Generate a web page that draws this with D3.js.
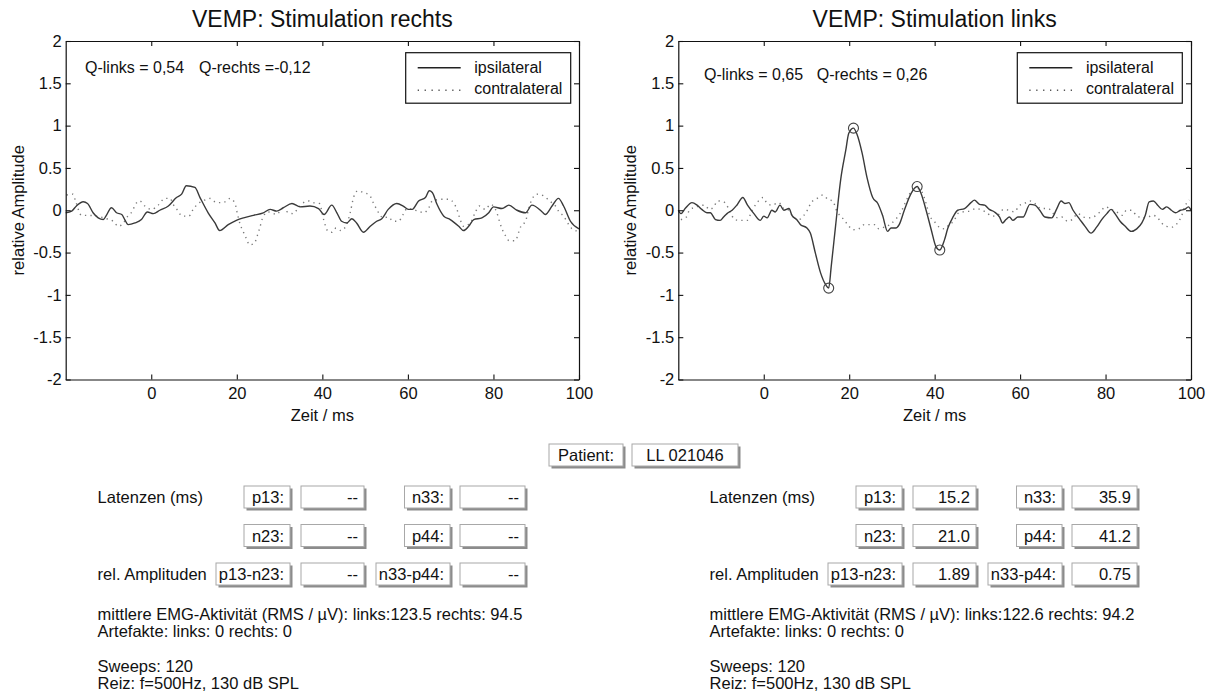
<!DOCTYPE html>
<html>
<head>
<meta charset="utf-8">
<script src="https://cdn.jsdelivr.net/npm/d3@7"></script>
<style>
  body { margin: 0; background: #fff; }
  svg { display: block; font-family: "Liberation Sans", Arial, Helvetica, sans-serif; }
</style>
</head>
<body>
<svg id="fig" width="1212" height="693"></svg>
<script>
// ---- averaged VEMP traces, [time ms, relative amplitude] ----
const rechtsIpsi = [[-20,-0.03],[-18.6,-0.01],[-17.5,0.05],[-15.9,0.10],[-14.9,0.08],[-13.6,-0.03],[-12.4,-0.09],[-11.2,-0.11],[-10.6,-0.07],[-9.3,0.03],[-8.1,-0.03],[-6.9,-0.05],[-6.2,-0.11],[-5.4,-0.17],[-3.8,-0.15],[-2.3,-0.11],[-0.9,-0.02],[0.5,-0.04],[2.0,0.00],[4.0,0.05],[5.9,0.15],[7.1,0.19],[8.2,0.29],[10.2,0.27],[11.4,0.15],[13.3,-0.03],[14.9,-0.15],[16.0,-0.24],[18.0,-0.17],[19.9,-0.12],[21.6,-0.09],[23.9,-0.06],[26.2,-0.03],[27.8,0.01],[29.3,-0.01],[30.9,0.03],[32.9,0.08],[34.8,0.04],[37.1,0.05],[39.1,0.02],[40.4,-0.05],[42.2,0.06],[43.4,-0.03],[44.5,-0.13],[45.7,-0.15],[46.9,-0.10],[48.0,-0.15],[49.6,-0.26],[51.2,-0.19],[52.7,-0.13],[53.9,-0.10],[55.4,0.01],[57.4,0.08],[58.9,0.05],[60.1,0.01],[61.0,0.01],[62.5,0.11],[64.1,0.15],[65.0,0.23],[65.7,0.21],[66.8,0.07],[68.4,-0.07],[69.9,-0.11],[71.9,-0.19],[73.0,-0.24],[74.2,-0.19],[75.4,-0.11],[77.3,-0.09],[78.9,-0.03],[80.0,0.04],[82.0,0.02],[83.6,0.06],[85.5,0.00],[87.5,-0.03],[89.0,0.06],[91.4,-0.02],[92.1,-0.05],[93.7,0.05],[95.2,0.14],[96.4,0.05],[98.0,-0.13],[100,-0.22]];

const rechtsContra = [[-19.8,0.18],[-18.3,0.19],[-17.7,0.11],[-16.3,-0.06],[-14.9,-0.06],[-12.8,-0.07],[-10.4,-0.10],[-8.9,-0.13],[-7.7,-0.19],[-6.5,-0.15],[-5.5,-0.07],[-4.4,-0.01],[-3.7,0.07],[-2.7,0.11],[-1.5,0.05],[0.1,0.01],[1.6,0.06],[3.2,0.14],[4.4,0.14],[5.1,0.07],[6.3,-0.01],[7.2,-0.07],[8.8,-0.07],[9.8,0.01],[11.0,0.08],[12.1,0.11],[13.7,0.14],[15.3,0.09],[16.8,0.09],[18.4,0.14],[19.6,0.08],[20.0,-0.01],[20.8,-0.17],[21.4,-0.24],[22.2,-0.33],[23.0,-0.41],[24.1,-0.39],[24.8,-0.30],[25.3,-0.22],[26.2,-0.07],[27.4,-0.02],[29.3,-0.05],[30.7,0.02],[32.1,-0.03],[33.2,-0.04],[34.4,0.03],[35.6,0.09],[36.8,0.11],[37.9,0.09],[39.3,0.08],[40.3,-0.11],[41.2,-0.24],[42.2,-0.26],[43.2,-0.21],[44.3,-0.24],[45.6,-0.18],[46.5,-0.03],[47.3,0.15],[48.3,0.23],[49.6,0.21],[51.0,0.18],[51.9,0.09],[52.7,0.01],[54.3,-0.09],[55.4,-0.08],[56.6,-0.13],[57.8,-0.13],[58.9,-0.05],[59.8,0.02],[62.4,-0.01],[63.7,-0.03],[64.9,0.03],[65.7,0.11],[68.0,0.13],[69.5,0.13],[70.9,0.07],[71.6,-0.01],[72.1,-0.09],[73.0,-0.19],[74.6,-0.15],[75.8,-0.02],[76.7,0.05],[78.1,0.01],[79.3,0.07],[80.8,-0.03],[81.4,-0.13],[82.0,-0.22],[82.8,-0.30],[83.7,-0.36],[85.1,-0.36],[85.9,-0.26],[86.4,-0.19],[87.5,-0.13],[88.2,0.01],[89.0,0.13],[90.2,0.19],[91.7,0.17],[93.1,0.11],[94.5,0.05],[95.2,-0.01],[96.4,-0.07],[97.6,-0.17],[98.4,-0.22],[100,-0.25]];

const linksIpsi = [[-20,0.00],[-19.4,-0.04],[-18.4,0.02],[-16.8,0.09],[-15.6,0.06],[-14.5,0.01],[-13.3,-0.03],[-12.5,-0.03],[-11.3,-0.11],[-10.2,-0.12],[-9.4,-0.08],[-8.6,-0.04],[-7.4,0.00],[-6.3,0.06],[-4.9,0.15],[-3.8,0.06],[-2.3,-0.04],[-0.8,-0.12],[0,-0.07],[0.8,-0.09],[1.9,0.00],[2.7,-0.02],[3.8,0.06],[4.7,0.00],[5.9,0.02],[6.6,-0.06],[7.7,-0.11],[8.6,-0.17],[10.1,-0.21],[10.9,-0.27],[12.1,-0.51],[13.3,-0.74],[14.5,-0.88],[15.2,-0.92],[15.8,-0.66],[16.8,-0.19],[18.0,0.36],[19.2,0.71],[19.9,0.91],[21.0,0.97],[21.8,0.90],[23.0,0.68],[24.2,0.38],[25.5,0.15],[26.7,0.08],[27.8,-0.06],[29.0,-0.25],[29.8,-0.21],[30.9,-0.21],[31.7,-0.17],[32.9,0.00],[34.5,0.20],[35.9,0.28],[36.8,0.20],[38.0,0.00],[39.2,-0.23],[40.3,-0.43],[41.2,-0.47],[42.3,-0.35],[43.1,-0.21],[44.2,-0.09],[45.4,0.00],[47.0,0.02],[48.5,0.09],[49.3,0.12],[50.5,0.07],[51.7,0.06],[52.8,0.01],[54.0,-0.02],[55.2,-0.08],[55.9,-0.15],[56.7,-0.11],[57.5,-0.08],[58.3,-0.12],[59.5,-0.08],[60.7,-0.08],[62.3,0.07],[63.5,0.06],[64.6,0.00],[65.8,-0.08],[67.4,-0.09],[68.6,0.02],[69.6,0.11],[70.5,0.08],[71.4,0.09],[72.4,0.00],[74.0,-0.11],[75.2,-0.19],[76.6,-0.27],[77.9,-0.20],[79.1,-0.11],[80.3,-0.04],[81.3,0.01],[82.2,-0.04],[83.4,-0.13],[84.6,-0.19],[86.0,-0.25],[87.3,-0.22],[88.5,-0.15],[89.3,-0.06],[90.2,0.10],[91.2,0.11],[92.2,0.06],[93.3,0.01],[94.3,0.04],[95.4,0.00],[96.4,-0.03],[97.5,0.00],[98.5,0.01],[99.4,0.04],[100,0.00]];

const linksContra = [[-19.4,-0.11],[-18.1,-0.08],[-17.4,0.00],[-15.8,0.04],[-13.9,0.06],[-12.7,0.01],[-11.7,0.04],[-10.8,0.11],[-9.4,0.10],[-8.2,0.02],[-6.8,-0.11],[-5.3,-0.12],[-3.9,-0.12],[-2.7,0.00],[-1.4,0.10],[-0.2,0.15],[0.8,0.08],[1.9,0.06],[3.5,0.09],[4.7,0.02],[5.9,0.00],[6.9,-0.08],[8.2,-0.11],[9.4,-0.06],[10.2,0.00],[11.1,0.09],[12.5,0.14],[13.8,0.18],[15.0,0.13],[16.1,0.11],[17.2,-0.02],[18.4,-0.09],[19.5,-0.16],[20.9,-0.23],[22.2,-0.22],[23.5,-0.17],[24.7,-0.17],[25.9,-0.17],[27.0,-0.22],[28.2,-0.20],[29.5,-0.17],[30.8,-0.11],[31.9,-0.04],[32.7,0.04],[33.5,0.13],[34.5,0.22],[35.8,0.26],[37.0,0.22],[38.0,0.08],[38.8,-0.06],[39.9,-0.13],[41.1,-0.20],[42.3,-0.22],[43.4,-0.17],[44.6,-0.12],[45.4,-0.04],[46.6,-0.02],[48.1,-0.01],[49.7,0.02],[51.9,-0.02],[53.5,-0.07],[54.7,-0.06],[56.1,0.01],[57.4,0.00],[58.7,-0.02],[59.7,0.05],[61.0,0.08],[62.3,0.11],[63.5,0.08],[64.9,0.02],[66.6,0.02],[67.8,-0.04],[68.8,-0.09],[69.8,-0.08],[71.1,-0.13],[72.2,-0.11],[73.5,-0.04],[74.8,-0.08],[76.0,-0.09],[77.1,-0.08],[78.7,-0.02],[80.0,0.04],[81.3,0.01],[82.6,-0.02],[83.9,-0.06],[84.9,0.00],[86.1,0.00],[87.2,-0.06],[88.6,-0.09],[89.9,-0.08],[91.2,-0.06],[92.2,-0.09],[93.3,-0.16],[94.3,-0.19],[95.5,-0.20],[96.7,-0.16],[97.7,-0.08],[98.6,0.05],[99.6,0.12]];

// ---- detected peaks (stimulation links) ----
const peakNames   = ["p13", "n23", "n33", "p44"];
const peakLatency = [15.2, 21.0, 35.9, 41.2];
const peakAmp     = [-0.92, 0.97, 0.28, -0.47];

// ---- axis ticks ----
const xTicks = [0, 20, 40, 60, 80, 100];
const yTicks = [-2, -1.5, -1, -0.5, 0, 0.5, 1, 1.5, 2];

// ---- summary values ----
const panelTitles = ["VEMP: Stimulation rechts", "VEMP: Stimulation links"];
const qLinks  = ["0,54", "0,65"];
const qRechts = ["-0,12", " 0,26"];
const rmsLinks  = ["123.5", "122.6"];
const rmsRechts = ["94.5", "94.2"];
const artefakteLinks  = [0, 0];
const artefakteRechts = [0, 0];
const sweeps = [120, 120];
const patientId = "LL 021046";

const svg = d3.select("#fig");
const FS = 16.5;

const panels = [
  { x0: 65.7, x1: 579, qx: [85, 199], qy: 73, ylabX: 24, ipsi: rechtsIpsi, contra: rechtsContra, peaks: false, legX: 405.7 },
  { x0: 678.3, x1: 1191, qx: [704, 816.7], qy: 80, ylabX: 636, ipsi: linksIpsi, contra: linksContra, peaks: true, legX: 1017.3 }
];
const y0 = 41, y1 = 379.5;

panels.forEach((p, i) => {
  const x = d3.scaleLinear().domain([-20, 100]).range([p.x0, p.x1]);
  const y = d3.scaleLinear().domain([-2, 2]).range([y1, y0]);
  const g = svg.append("g");

  // traces
  const line = d3.line().x(d => x(d[0])).y(d => y(d[1])).curve(d3.curveMonotoneX);
  g.append("path").datum(p.contra).attr("d", line)
    .attr("fill", "none").attr("stroke", "#7a7a7a").attr("stroke-width", 1.4)
    .attr("stroke-dasharray", "1.3 4.2").attr("stroke-linecap", "butt");
  g.append("path").datum(p.ipsi).attr("d", line)
    .attr("fill", "none").attr("stroke", "#3a3a3a").attr("stroke-width", 1.4)
    .attr("stroke-linejoin", "round");

  if (p.peaks) {
    g.selectAll("circle.pk").data(peakLatency).join("circle")
      .attr("class", "pk")
      .attr("cx", d => x(d)).attr("cy", (d, k) => y(peakAmp[k])).attr("r", 5)
      .attr("fill", "none").attr("stroke", "#444").attr("stroke-width", 1.1);
  }

  // frame with inward ticks
  const styleAxis = sel => {
    sel.select(".domain").attr("stroke", "#111").attr("stroke-width", 1.2);
    sel.selectAll(".tick line").attr("stroke", "#111").attr("stroke-width", 1.1);
    sel.selectAll("text").attr("font-size", FS).attr("fill", "#111")
      .attr("font-family", "'Liberation Sans', Arial, sans-serif");
  };
  g.append("g").attr("transform", `translate(0,${y1})`)
    .call(d3.axisBottom(x).tickValues(xTicks).tickSizeInner(-5).tickSizeOuter(0).tickPadding(8).tickFormat(d => String(d)))
    .call(styleAxis);
  g.append("g").attr("transform", `translate(0,${y0})`)
    .call(d3.axisTop(x).tickValues(xTicks).tickSizeInner(-5).tickSizeOuter(0).tickFormat(""))
    .call(styleAxis);
  g.append("g").attr("transform", `translate(${p.x0},0)`)
    .call(d3.axisLeft(y).tickValues(yTicks).tickSizeInner(-5).tickSizeOuter(0).tickPadding(4).tickFormat(d => String(d)))
    .call(styleAxis);
  g.append("g").attr("transform", `translate(${p.x1},0)`)
    .call(d3.axisRight(y).tickValues(yTicks).tickSizeInner(-5).tickSizeOuter(0).tickFormat(""))
    .call(styleAxis);
  g.selectAll(".domain").attr("fill", "none");

  // titles and axis labels
  g.append("text").attr("x", (p.x0 + p.x1) / 2).attr("y", 27)
    .attr("text-anchor", "middle").attr("font-size", 23).attr("fill", "#111").text(panelTitles[i]);
  g.append("text").attr("x", (p.x0 + p.x1) / 2).attr("y", 421)
    .attr("text-anchor", "middle").attr("font-size", FS).attr("fill", "#111").text("Zeit / ms");
  g.append("text").attr("transform", `translate(${p.ylabX},${(y0 + y1) / 2}) rotate(-90)`)
    .attr("text-anchor", "middle").attr("font-size", FS).attr("fill", "#111").text("relative Amplitude");

  // asymmetry quotients
  g.append("text").attr("x", p.qx[0]).attr("y", p.qy).attr("font-size", 16).attr("fill", "#111")
    .text(`Q-links = ${qLinks[i]}`);
  g.append("text").attr("x", p.qx[1]).attr("y", p.qy).attr("font-size", 16).attr("fill", "#111")
    .attr("xml:space", "preserve").text(`Q-rechts =${qRechts[i]}`);

  // legend
  const lg = g.append("g").attr("transform", `translate(${p.legX},52.7)`);
  lg.append("rect").attr("width", 165).attr("height", 50.5)
    .attr("fill", "#fff").attr("stroke", "#111").attr("stroke-width", 1.2);
  lg.append("line").attr("x1", 12).attr("x2", 55).attr("y1", 15).attr("y2", 15)
    .attr("stroke", "#222").attr("stroke-width", 1.4);
  lg.append("line").attr("x1", 12).attr("x2", 55).attr("y1", 37.5).attr("y2", 37.5)
    .attr("stroke", "#555").attr("stroke-width", 1.4).attr("stroke-dasharray", "1.3 5.6");
  lg.append("text").attr("x", 68.6).attr("y", 20.6).attr("font-size", 16).attr("fill", "#111").text("ipsilateral");
  lg.append("text").attr("x", 68.6).attr("y", 41).attr("font-size", 16).attr("fill", "#111").text("contralateral");
});

// ---- raised text fields ----
function field(x, y, w, h, label, anchor) {
  const g = svg.append("g");
  g.append("rect").attr("x", x + 2.5).attr("y", y + 2.5).attr("width", w).attr("height", h).attr("fill", "#8c8c8c");
  g.append("rect").attr("x", x).attr("y", y).attr("width", w).attr("height", h)
    .attr("fill", "#fff").attr("stroke", "#a8a8a8").attr("stroke-width", 1);
  const tx = anchor === "middle" ? x + w / 2 : x + w - 6;
  g.append("text").attr("x", tx).attr("y", y + h / 2 + 6)
    .attr("text-anchor", anchor).attr("font-size", FS).attr("fill", "#111").text(label);
}

field(549, 444, 74, 22, "Patient:", "middle");
field(632, 444, 106, 22, patientId, "middle");

const rowTop = [486, 524.5, 563];
[0, 1].forEach(i => {
  const ox = i * 612;
  const hasPeaks = i === 1;
  const lat = k => hasPeaks ? peakLatency[k].toFixed(1) : "--";
  const relA = hasPeaks ? (peakAmp[1] - peakAmp[0]).toFixed(2) : "--";
  const relB = hasPeaks ? (peakAmp[2] - peakAmp[3]).toFixed(2) : "--";
  const tx = 97.6 + ox;

  const t = (yy, s) => svg.append("text").attr("x", tx).attr("y", yy).attr("font-size", FS).attr("fill", "#111").text(s);
  t(rowTop[0] + 17, "Latenzen (ms)");
  t(rowTop[2] + 17, "rel. Amplituden");

  field(244 + ox, rowTop[0], 46, 22, peakNames[0] + ":", "end");
  field(301 + ox, rowTop[0], 63, 22, lat(0), "end");
  field(404.5 + ox, rowTop[0], 45.5, 22, peakNames[2] + ":", "end");
  field(460 + ox, rowTop[0], 65, 22, lat(2), "end");

  field(244 + ox, rowTop[1], 46, 22, peakNames[1] + ":", "end");
  field(301 + ox, rowTop[1], 63, 22, lat(1), "end");
  field(404.5 + ox, rowTop[1], 45.5, 22, peakNames[3] + ":", "end");
  field(460 + ox, rowTop[1], 65, 22, lat(3), "end");

  field(216 + ox, rowTop[2], 74, 22, `${peakNames[0]}-${peakNames[1]}:`, "end");
  field(301 + ox, rowTop[2], 63, 22, relA, "end");
  field(376 + ox, rowTop[2], 74, 22, `${peakNames[2]}-${peakNames[3]}:`, "end");
  field(460 + ox, rowTop[2], 65, 22, relB, "end");

  t(620, `mittlere EMG-Aktivität (RMS / µV): links:${rmsLinks[i]} rechts: ${rmsRechts[i]}`);
  t(637, `Artefakte: links: ${artefakteLinks[i]} rechts: ${artefakteRechts[i]}`);
  t(672, `Sweeps: ${sweeps[i]}`);
  t(689, "Reiz: f=500Hz, 130 dB SPL");
});
</script>
</body>
</html>
